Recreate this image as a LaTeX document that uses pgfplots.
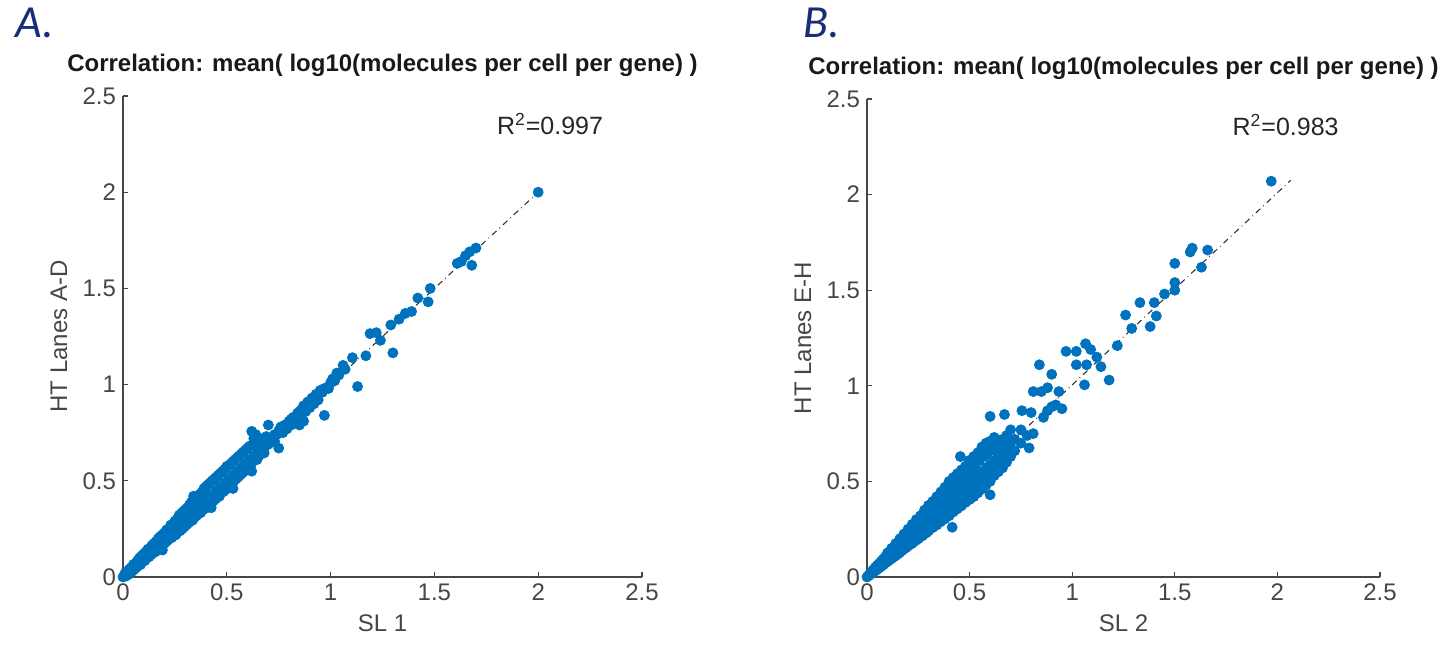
\documentclass[border=0pt]{standalone}
\usepackage{pgfplots}
\pgfplotsset{compat=1.18}
\usepackage{fontspec}
\setmainfont{Liberation Sans}
\newfontfamily\calib{Carlito}
\definecolor{mblue}{RGB}{0,114,189}
\definecolor{axgray}{RGB}{70,70,70}
\definecolor{navy}{RGB}{22,46,122}
\pgfplotsset{mystyle/.style={
  scale only axis, axis lines=left, axis line style={-, axgray, line width=0.6pt},
  xmin=0, xmax=2.5, ymin=0, ymax=2.5,
  xtick={0,0.5,1,1.5,2,2.5}, ytick={0,0.5,1,1.5,2,2.5},
  xticklabels={0,0.5,1,1.5,2,2.5}, yticklabels={0,0.5,1,1.5,2,2.5},
  tick align=inside, major tick length=2.5pt, tick style={axgray, line width=0.6pt},
  ticklabel style={font=\fontsize{12}{14}\selectfont, text=axgray},
  /pgf/number format/assume math mode=true,
  label style={font=\fontsize{12}{14}\selectfont, text=axgray},
  xlabel style={at={(axis description cs:0.5,0)}, anchor=center, yshift=-23pt},
  ylabel style={at={(axis description cs:0,0.5)}, anchor=center, yshift=32pt},
  title style={at={(axis description cs:0.5,1)}, anchor=base, yshift=6.5pt, font=\bfseries\fontsize{12}{14}\selectfont, text=black!90},
  clip=false,
}}
\begin{document}
\begin{tikzpicture}
\useasboundingbox (0,0) rectangle (721pt,325pt);
\node[anchor=base west, font=\calib\itshape\fontsize{23}{26}\selectfont, text=navy, inner sep=0pt] at (7.5pt,306pt) {A.};
\node[anchor=base west, font=\calib\itshape\fontsize{23}{26}\selectfont, text=navy, inner sep=0pt] at (401.5pt,306pt) {B.};
\begin{axis}[mystyle, at={(61.5pt,36.5pt)}, anchor=south west, width=259.5pt, height=240.5pt,
  xlabel={SL 1}, ylabel={HT Lanes A-D},
  title={Correlation: mean( log10(molecules per cell per gene) )}]
\addplot[only marks, mark=*, mark size=2.5pt, mblue] table {
x y
0.00 0.00
0.01 0.02
0.015 0.005
0.02 0.03
0.025 0.012
0.03 0.04
0.035 0.02
0.04 0.05
0.045 0.03
0.05 0.065
0.055 0.04
0.06 0.07
0.065 0.05
0.07 0.085
0.075 0.06
0.08 0.10
0.085 0.065
0.09 0.11
0.095 0.08
0.10 0.12
0.105 0.085
0.11 0.13
0.115 0.10
0.12 0.145
0.125 0.105
0.13 0.15
0.135 0.115
0.14 0.165
0.145 0.125
0.15 0.175
0.155 0.13
0.16 0.185
0.165 0.14
0.17 0.20
0.175 0.15
0.18 0.21
0.185 0.16
0.19 0.14
0.19 0.22
0.195 0.17
0.20 0.23
0.205 0.18
0.21 0.245
0.215 0.19
0.22 0.25
0.225 0.20
0.23 0.27
0.235 0.205
0.24 0.275
0.245 0.215
0.25 0.29
0.255 0.22
0.26 0.30
0.265 0.235
0.27 0.32
0.275 0.24
0.28 0.33
0.285 0.25
0.29 0.34
0.295 0.26
0.30 0.35
0.305 0.27
0.31 0.36
0.315 0.28
0.32 0.375
0.325 0.29
0.33 0.39
0.335 0.295
0.34 0.42
0.345 0.31
0.35 0.40
0.355 0.32
0.36 0.41
0.365 0.33
0.37 0.43
0.375 0.335
0.38 0.44
0.385 0.35
0.39 0.46
0.395 0.355
0.40 0.47
0.405 0.37
0.41 0.48
0.415 0.375
0.42 0.49
0.425 0.36
0.43 0.50
0.435 0.395
0.44 0.51
0.445 0.405
0.45 0.52
0.455 0.415
0.46 0.53
0.465 0.42
0.47 0.54
0.475 0.44
0.48 0.55
0.485 0.445
0.49 0.56
0.495 0.455
0.50 0.575
0.505 0.465
0.51 0.58
0.515 0.475
0.52 0.59
0.525 0.49
0.53 0.46
0.53 0.60
0.535 0.50
0.54 0.61
0.545 0.51
0.55 0.62
0.555 0.52
0.56 0.63
0.565 0.53
0.57 0.64
0.575 0.54
0.58 0.65
0.585 0.55
0.59 0.66
0.595 0.56
0.60 0.67
0.605 0.575
0.61 0.68
0.615 0.58
0.62 0.55
0.62 0.757
0.63 0.72
0.635 0.705
0.64 0.74
0.645 0.61
0.65 0.70
0.655 0.63
0.66 0.72
0.665 0.64
0.67 0.71
0.68 0.645
0.685 0.68
0.69 0.73
0.70 0.79
0.70 0.69
0.71 0.70
0.72 0.72
0.73 0.705
0.74 0.74
0.75 0.67
0.75 0.76
0.76 0.78
0.77 0.75
0.78 0.79
0.79 0.77
0.80 0.81
0.81 0.79
0.82 0.83
0.83 0.81
0.84 0.85
0.85 0.79
0.86 0.87
0.87 0.81
0.87 0.89
0.88 0.86
0.89 0.91
0.90 0.88
0.91 0.93
0.92 0.90
0.93 0.95
0.94 0.92
0.95 0.97
0.96 0.96
0.97 0.84
0.98 0.98
0.99 0.98
1.00 1.01
1.01 1.03
1.02 1.02
1.03 1.06
1.04 1.05
1.06 1.10
1.07 1.08
1.105 1.14
1.13 0.99
1.17 1.15
1.19 1.265
1.22 1.27
1.24 1.23
1.29 1.31
1.30 1.165
1.33 1.34
1.36 1.37
1.39 1.38
1.42 1.45
1.47 1.43
1.48 1.50
1.61 1.63
1.63 1.64
1.65 1.67
1.67 1.69
1.70 1.71
1.68 1.62
2.00 2.00
0.01 0.01
0.03 0.03
0.05 0.05
0.07 0.07
0.09 0.09
0.11 0.11
0.13 0.13
0.15 0.15
0.17 0.17
0.19 0.19
0.21 0.21
0.23 0.23
0.25 0.25
0.27 0.27
0.29 0.29
0.31 0.31
0.33 0.33
0.35 0.35
0.37 0.37
0.39 0.39
0.41 0.41
0.43 0.43
0.45 0.45
0.47 0.47
0.49 0.49
0.51 0.51
0.53 0.53
0.55 0.55
0.57 0.57
0.59 0.59
0.61 0.61
0.63 0.63
0.65 0.66
0.67 0.67
0.69 0.70
0.73 0.74
0.77 0.78
0.81 0.82
0.85 0.86
0.89 0.89
0.93 0.93
0.97 0.98
};
\addplot[black!85, dashdotted, line width=0.5pt] coordinates {(0,0) (2,2)};
\node[anchor=base west, font=\fontsize{12.5}{14}\selectfont, text=black!85, inner sep=0pt] at (axis cs:1.80,2.30) {R\textsuperscript{2}=0.997};
\end{axis}
\begin{axis}[mystyle, at={(433.5pt,36.5pt)}, anchor=south west, width=256.5pt, height=239pt,
  xlabel={SL 2}, ylabel={HT Lanes E-H},
  title={Correlation: mean( log10(molecules per cell per gene) )}]
\addplot[only marks, mark=*, mark size=2.5pt, mblue] table {
x y
0.00 0.00
0.01 0.008
0.01 0.012
0.02 0.016
0.02 0.022
0.02 0.026
0.03 0.024
0.03 0.031
0.03 0.037
0.04 0.032
0.04 0.042
0.04 0.050
0.05 0.040
0.05 0.052
0.05 0.061
0.06 0.048
0.06 0.058
0.06 0.071
0.07 0.056
0.07 0.069
0.07 0.083
0.08 0.064
0.08 0.081
0.08 0.095
0.09 0.073
0.09 0.088
0.09 0.106
0.10 0.081
0.10 0.099
0.10 0.118
0.10 0.126
0.11 0.089
0.11 0.108
0.11 0.131
0.12 0.097
0.12 0.120
0.12 0.142
0.12 0.150
0.13 0.104
0.13 0.130
0.13 0.155
0.14 0.112
0.14 0.138
0.14 0.165
0.14 0.175
0.15 0.120
0.15 0.149
0.15 0.178
0.16 0.128
0.16 0.158
0.16 0.190
0.16 0.200
0.17 0.138
0.17 0.168
0.17 0.202
0.18 0.146
0.18 0.179
0.18 0.214
0.18 0.225
0.19 0.153
0.19 0.190
0.19 0.226
0.20 0.162
0.20 0.198
0.20 0.237
0.20 0.250
0.21 0.170
0.21 0.208
0.21 0.250
0.22 0.176
0.22 0.218
0.22 0.262
0.22 0.275
0.23 0.186
0.23 0.228
0.23 0.273
0.24 0.193
0.24 0.240
0.24 0.285
0.24 0.300
0.25 0.200
0.25 0.248
0.25 0.298
0.26 0.210
0.26 0.257
0.26 0.310
0.26 0.320
0.27 0.216
0.27 0.270
0.27 0.322
0.28 0.226
0.28 0.279
0.28 0.333
0.28 0.350
0.29 0.232
0.29 0.290
0.29 0.345
0.30 0.241
0.30 0.298
0.30 0.356
0.30 0.375
0.32 0.258
0.32 0.318
0.32 0.380
0.32 0.395
0.33 0.270
0.33 0.335
0.34 0.272
0.34 0.338
0.34 0.404
0.34 0.420
0.35 0.285
0.35 0.350
0.36 0.290
0.36 0.358
0.36 0.425
0.36 0.445
0.37 0.300
0.37 0.372
0.38 0.305
0.38 0.378
0.38 0.450
0.38 0.470
0.39 0.318
0.39 0.390
0.40 0.320
0.40 0.396
0.40 0.470
0.40 0.500
0.415 0.260
0.42 0.340
0.42 0.415
0.42 0.490
0.42 0.520
0.43 0.355
0.43 0.430
0.44 0.356
0.44 0.436
0.44 0.512
0.44 0.540
0.455 0.630
0.46 0.372
0.46 0.456
0.46 0.535
0.46 0.560
0.47 0.390
0.47 0.470
0.48 0.390
0.48 0.475
0.48 0.555
0.48 0.580
0.50 0.405
0.50 0.495
0.50 0.570
0.50 0.610
0.52 0.420
0.52 0.515
0.52 0.590
0.52 0.630
0.54 0.440
0.54 0.535
0.54 0.610
0.54 0.650
0.56 0.460
0.56 0.550
0.56 0.630
0.56 0.680
0.58 0.480
0.58 0.570
0.58 0.640
0.58 0.700
0.60 0.430
0.60 0.500
0.60 0.590
0.60 0.660
0.60 0.710
0.60 0.840
0.62 0.530
0.62 0.610
0.62 0.670
0.62 0.730
0.64 0.550
0.64 0.630
0.64 0.690
0.66 0.570
0.66 0.650
0.66 0.720
0.67 0.850
0.68 0.600
0.68 0.670
0.68 0.740
0.70 0.630
0.70 0.700
0.70 0.770
0.72 0.660
0.72 0.720
0.75 0.700
0.75 0.770
0.755 0.870
0.78 0.740
0.79 0.675
0.80 0.860
0.81 0.750
0.81 0.970
0.84 1.110
0.85 0.970
0.86 0.835
0.88 0.870
0.88 0.990
0.90 0.890
0.90 1.060
0.92 0.900
0.935 0.970
0.95 0.880
0.97 1.180
1.02 1.180
1.02 1.110
1.06 1.005
1.065 1.220
1.07 1.110
1.09 1.190
1.12 1.150
1.14 1.100
1.18 1.030
1.22 1.210
1.26 1.370
1.29 1.300
1.33 1.435
1.38 1.310
1.40 1.435
1.41 1.365
1.45 1.480
1.50 1.500
1.50 1.540
1.50 1.640
1.575 1.700
1.585 1.720
1.63 1.620
1.66 1.710
1.97 2.070
0.03 0.027
0.03 0.033
0.05 0.045
0.05 0.056
0.07 0.062
0.07 0.078
0.09 0.080
0.09 0.100
0.11 0.098
0.11 0.122
0.13 0.116
0.13 0.144
0.15 0.134
0.15 0.167
0.17 0.151
0.17 0.189
0.19 0.169
0.19 0.211
0.21 0.187
0.21 0.233
0.23 0.205
0.23 0.255
0.25 0.223
0.25 0.278
0.27 0.240
0.27 0.300
0.29 0.258
0.29 0.322
0.31 0.276
0.31 0.344
0.33 0.294
0.33 0.366
0.35 0.312
0.35 0.389
0.37 0.329
0.37 0.411
0.39 0.347
0.39 0.433
0.41 0.365
0.41 0.455
0.43 0.383
0.43 0.477
0.45 0.401
0.45 0.500
0.47 0.418
0.47 0.522
0.49 0.436
0.49 0.544
0.51 0.454
0.51 0.566
0.53 0.472
0.53 0.588
0.55 0.490
0.55 0.611
0.57 0.507
0.57 0.633
0.59 0.525
0.59 0.655
0.61 0.543
0.61 0.677
0.63 0.580
0.63 0.660
0.65 0.600
0.65 0.700
0.67 0.630
0.67 0.690
0.69 0.650
0.69 0.720
};
\addplot[black!85, dashdotted, line width=0.5pt] coordinates {(0,0) (2.065,2.075)};
\node[anchor=base west, font=\fontsize{12.5}{14}\selectfont, text=black!85, inner sep=0pt] at (axis cs:1.78,2.31) {R\textsuperscript{2}=0.983};
\end{axis}
\end{tikzpicture}
\end{document}
